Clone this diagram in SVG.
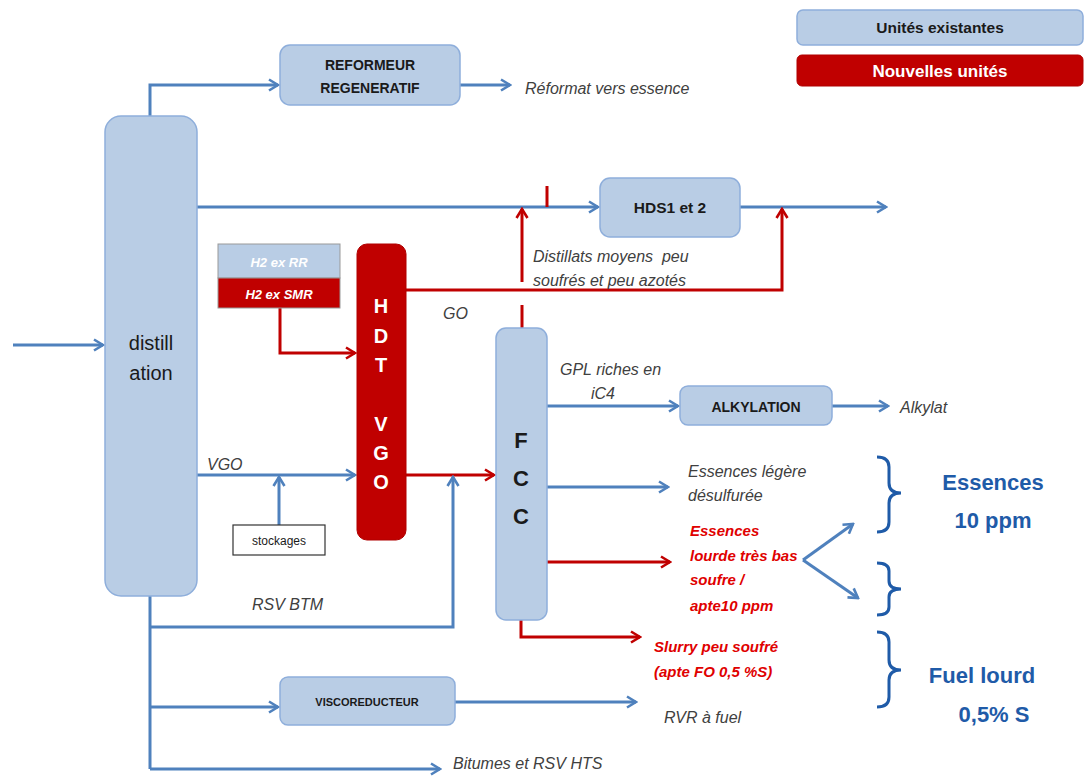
<svg xmlns="http://www.w3.org/2000/svg" width="1084" height="776" viewBox="0 0 1084 776">
<style>
.ub{fill:#b9cde5;stroke:#8eaedb;stroke-width:1.5}
.rb{fill:#c00000;stroke:#b00000;stroke-width:1}
.bl{fill:none;stroke:#4f81bd;stroke-width:3}
.rl{fill:none;stroke:#c00000;stroke-width:3}
.t{font-family:"Liberation Sans",Arial,sans-serif}
.lab{font-family:"Liberation Sans",Arial,sans-serif;font-style:italic;fill:#404040;font-size:16px}
.red{font-family:"Liberation Sans",Arial,sans-serif;font-style:italic;font-weight:bold;fill:#e00000;font-size:15px}
.bk{font-family:"Liberation Sans",Arial,sans-serif;font-weight:bold;fill:#1a1a1a;text-anchor:middle}
.wh{font-family:"Liberation Sans",Arial,sans-serif;font-weight:bold;fill:#ffffff;text-anchor:middle}
.big{font-family:"Liberation Sans",Arial,sans-serif;font-weight:bold;fill:#1f5ba8;text-anchor:middle;font-size:22px}
.br{fill:none;stroke:#1f5ba8;stroke-width:3}
</style>
<defs>
<marker id="ab" viewBox="0 0 14 14" refX="12" refY="7" markerWidth="14" markerHeight="14" markerUnits="userSpaceOnUse" orient="auto"><path d="M3,1.5 L12,7 L3,12.5" fill="none" stroke="#4f81bd" stroke-width="2.6"/></marker>
<marker id="ar" viewBox="0 0 14 14" refX="12" refY="7" markerWidth="14" markerHeight="14" markerUnits="userSpaceOnUse" orient="auto"><path d="M3,1.5 L12,7 L3,12.5" fill="none" stroke="#c00000" stroke-width="2.6"/></marker>
</defs>

<g id="legend">
<rect class="ub" x="797" y="10" width="286" height="35" rx="6"/>
<text class="bk" x="940" y="33" font-size="15.5">Unités existantes</text>
<rect class="rb" x="797" y="55" width="286" height="31" rx="5"/>
<text class="wh" x="940" y="77" font-size="17">Nouvelles unités</text>
</g>

<g id="connectors">
<path class="bl" d="M13,345 H103" marker-end="url(#ab)"/>
<path class="bl" d="M150,116 V85 H278" marker-end="url(#ab)"/>
<path class="bl" d="M460,85 H510" marker-end="url(#ab)"/>
<path class="bl" d="M197,207 H598" marker-end="url(#ab)"/>
<path class="bl" d="M740,207 H886" marker-end="url(#ab)"/>
<path class="rl" d="M547,186 V207"/>
<path class="rl" d="M522,282 V209" marker-end="url(#ar)"/>
<path class="rl" d="M522,305 V328"/>
<path class="rl" d="M406,290 H782 V209" marker-end="url(#ar)"/>
<path class="rl" d="M280,308 V353 H355" marker-end="url(#ar)"/>
<path class="bl" d="M197,475 H355" marker-end="url(#ab)"/>
<path class="bl" d="M279,525 V477" marker-end="url(#ab)"/>
<path class="rl" d="M406,475 H494" marker-end="url(#ar)"/>
<path class="bl" d="M150,596 V769"/>
<path class="bl" d="M150,627 H453 V477" marker-end="url(#ab)"/>
<path class="bl" d="M150,707 H278" marker-end="url(#ab)"/>
<path class="bl" d="M150,769 H440" marker-end="url(#ab)"/>
<path class="bl" d="M455,702 H636" marker-end="url(#ab)"/>
<path class="bl" d="M547,406 H678" marker-end="url(#ab)"/>
<path class="bl" d="M832,406 H888" marker-end="url(#ab)"/>
<path class="bl" d="M547,487 H668" marker-end="url(#ab)"/>
<path class="rl" d="M547,562 H670" marker-end="url(#ar)"/>
<path class="rl" d="M521,620 V637 H640" marker-end="url(#ar)"/>
<path class="bl" d="M803,560 L853,524" marker-end="url(#ab)"/>
<path class="bl" d="M803,560 L858,598" marker-end="url(#ab)"/>
</g>

<g id="distillation">
<rect class="ub" x="105" y="116" width="92" height="480" rx="16"/>
<text class="t" x="151" y="350" font-size="20" text-anchor="middle" fill="#1a1a1a">distill</text>
<text class="t" x="151" y="380" font-size="20" text-anchor="middle" fill="#1a1a1a">ation</text>
</g>

<g id="reformeur">
<rect class="ub" x="280" y="45" width="180" height="60" rx="10"/>
<text class="bk" x="370" y="70" font-size="14">REFORMEUR</text>
<text class="bk" x="370" y="93" font-size="14">REGENERATIF</text>
</g>

<g id="hds">
<rect class="ub" x="600" y="178" width="140" height="59" rx="10"/>
<text class="bk" x="670" y="213" font-size="15.5">HDS1 et 2</text>
</g>

<g id="h2">
<rect x="218" y="244" width="122" height="34" fill="#b9cde5" stroke="#999" stroke-width="1"/>
<text class="wh" x="279" y="267" font-size="13" font-style="italic">H2 ex RR</text>
<rect x="218" y="278" width="122" height="30" fill="#c00000" stroke="#999" stroke-width="1"/>
<text class="wh" x="279" y="299" font-size="13" font-style="italic">H2 ex SMR</text>
</g>

<g id="hdtvgo">
<rect class="rb" x="357" y="244" width="49" height="296" rx="10"/>
<text class="wh" x="381" y="313" font-size="20">H</text>
<text class="wh" x="381" y="343" font-size="20">D</text>
<text class="wh" x="381" y="372" font-size="20">T</text>
<text class="wh" x="381" y="431" font-size="20">V</text>
<text class="wh" x="381" y="460" font-size="20">G</text>
<text class="wh" x="381" y="489" font-size="20">O</text>
</g>

<g id="stockages">
<rect x="233" y="525" width="92" height="30" fill="#ffffff" stroke="#333" stroke-width="1.2"/>
<text class="t" x="279" y="545" font-size="12" text-anchor="middle" fill="#1a1a1a">stockages</text>
</g>

<g id="fcc">
<rect class="ub" x="496" y="328" width="51" height="292" rx="10"/>
<text class="bk" x="521" y="448" font-size="22">F</text>
<text class="bk" x="521" y="486" font-size="22">C</text>
<text class="bk" x="521" y="524" font-size="22">C</text>
</g>

<g id="alkylation">
<rect class="ub" x="680" y="386" width="152" height="39" rx="8"/>
<text class="bk" x="756" y="412" font-size="14">ALKYLATION</text>
</g>

<g id="visco">
<rect class="ub" x="280" y="677" width="175" height="48" rx="8"/>
<text class="bk" x="367" y="706" font-size="11">VISCOREDUCTEUR</text>
</g>

<g id="braces">
<path class="br" d="M877,457 Q889,457 889,467 V483 Q889,493 901,493 Q889,493 889,503 V522 Q889,532 877,532"/>
<path class="br" d="M877,563 Q889,563 889,571 V581 Q889,589 901,589 Q889,589 889,597 V607 Q889,615 877,615"/>
<path class="br" d="M877,632 Q889,632 889,642 V660 Q889,670 901,670 Q889,670 889,680 V697 Q889,707 877,707"/>
</g>

<g id="labels">
<text class="lab" x="525" y="94" font-size="16.5">Réformat vers essence</text>
<text class="lab" x="533" y="262">Distillats moyens&#160; peu</text>
<text class="lab" x="533" y="286">soufrés et peu azotés</text>
<text class="lab" x="443" y="319">GO</text>
<text class="lab" x="207" y="470">VGO</text>
<text class="lab" x="252" y="610">RSV BTM</text>
<text class="lab" x="560" y="375">GPL riches en</text>
<text class="lab" x="603" y="399" text-anchor="middle">iC4</text>
<text class="lab" x="900" y="413">Alkylat</text>
<text class="lab" x="688" y="477">Essences légère</text>
<text class="lab" x="688" y="501">désulfurée</text>
<text class="red" x="690" y="536">Essences</text>
<text class="red" x="690" y="561">lourde très bas</text>
<text class="red" x="690" y="585">soufre /</text>
<text class="red" x="690" y="611">apte10 ppm</text>
<text class="red" x="654" y="652">Slurry peu soufré</text>
<text class="red" x="654" y="677">(apte FO 0,5 %S)</text>
<text class="lab" x="664" y="723">RVR à fuel</text>
<text class="lab" x="453" y="769">Bitumes et RSV HTS</text>
<text class="big" x="993" y="490">Essences</text>
<text class="big" x="993" y="528">10 ppm</text>
<text class="big" x="982" y="683">Fuel lourd</text>
<text class="big" x="994" y="722">0,5% S</text>
</g>
</svg>
